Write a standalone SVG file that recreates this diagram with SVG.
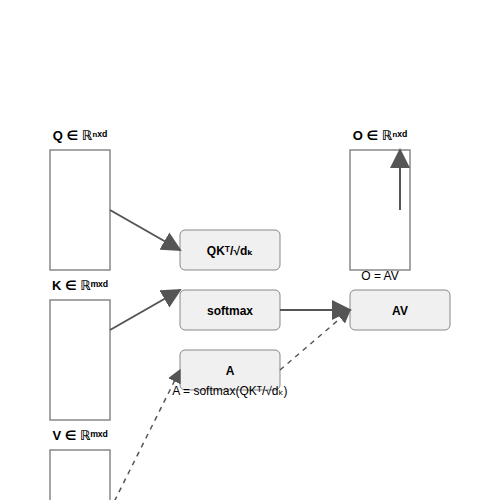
<svg xmlns="http://www.w3.org/2000/svg" width="500" height="500" viewBox="0 0 500 500">
<style>
.mat{fill:#fff;stroke:#888;stroke-width:1.5}
.op{fill:#f0f0f0;stroke:#888;stroke-width:1}
.lbl{font-family:"Liberation Sans",Arial,"DejaVu Sans",sans-serif;font-size:13px;font-weight:bold;fill:#000;text-anchor:middle}
.opt{font-family:"Liberation Sans",Arial,"DejaVu Sans",sans-serif;font-size:12px;font-weight:bold;fill:#000;text-anchor:middle}
.note{font-family:"Liberation Sans",Arial,"DejaVu Sans",sans-serif;font-size:12px;fill:#000;text-anchor:middle}
.c{stroke:#555;stroke-width:2;fill:none}
.d{stroke:#555;stroke-width:1.5;fill:none;stroke-dasharray:5,5}
</style>
<defs>
<marker id="ah" viewBox="0 0 10 10" refX="9" refY="5" markerWidth="8" markerHeight="8" markerUnits="userSpaceOnUse" orient="auto">
<path d="M0,0 L10,5 L0,10 Z" fill="#555"/>
</marker>
<marker id="ahl" viewBox="0 0 10 10" refX="9" refY="5" markerWidth="14" markerHeight="14" markerUnits="userSpaceOnUse" orient="auto">
<path d="M0,0 L10,5 L0,10 Z" fill="#555"/>
</marker>
<marker id="ah2" viewBox="0 0 10 10" refX="9" refY="5" markerWidth="10" markerHeight="10" orient="auto">
<path d="M0,0 L10,5 L0,10 Z" fill="#555"/>
</marker>
</defs>
<g id="Q"><rect class="mat" x="50" y="150" width="60" height="120"/><text class="lbl" x="80" y="140">Q ∈ ℝⁿˣᵈ</text></g>
<g id="K"><rect class="mat" x="50" y="300" width="60" height="120"/><text class="lbl" x="80" y="290">K ∈ ℝᵐˣᵈ</text></g>
<g id="V"><rect class="mat" x="50" y="450" width="60" height="120"/><text class="lbl" x="80" y="440">V ∈ ℝᵐˣᵈ</text></g>
<g id="O"><rect class="mat" x="350" y="150" width="60" height="120"/><text class="lbl" x="380" y="140">O ∈ ℝⁿˣᵈ</text><text class="note" x="380" y="280">O = AV</text></g>
<g id="QK"><rect class="op" x="180" y="230" width="100" height="40" rx="5"/><text class="opt" x="230" y="255">QKᵀ/√dₖ</text></g>
<g id="softmax"><rect class="op" x="180" y="290" width="100" height="40" rx="5"/><text class="opt" x="230" y="315">softmax</text></g>
<g id="A"><rect class="op" x="180" y="350" width="100" height="40" rx="5"/><text class="opt" x="230" y="375">A</text><text class="note" x="230" y="395">A = softmax(QKᵀ/√dₖ)</text></g>
<g id="AV"><rect class="op" x="350" y="290" width="100" height="40" rx="5"/><text class="opt" x="400" y="315">AV</text></g>
<g id="connectors">
<line class="c" x1="110" y1="210" x2="180" y2="250" marker-end="url(#ah2)"/>
<line class="c" x1="110" y1="330" x2="180" y2="290" marker-end="url(#ah2)"/>
<line class="c" x1="280" y1="310" x2="350" y2="310" marker-end="url(#ah2)"/>
<line class="d" x1="110" y1="510" x2="180" y2="370" marker-end="url(#ahl)"/>
<line class="d" x1="280" y1="370" x2="350" y2="310" marker-end="url(#ahl)"/>
<line class="c" x1="400" y1="210" x2="400" y2="150" marker-end="url(#ah2)"/>
</g>
</svg>
